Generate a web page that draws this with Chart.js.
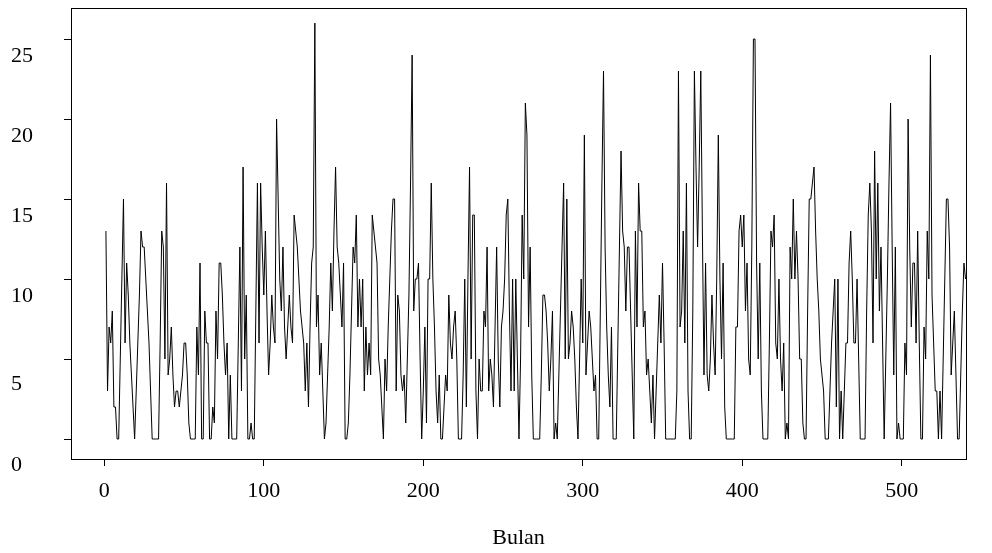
<!DOCTYPE html>
<html>
<head>
<meta charset="utf-8">
<title>Bulan</title>
<script src="https://cdn.jsdelivr.net/npm/chart.js@4.4.1/dist/chart.umd.min.js"></script>
<style>
    body { margin: 0; background: #ffffff; }
    #chart-box { width: 992px; height: 553px; }
</style>
</head>
<body>
<div id="chart-box">
    <canvas id="chart1" width="992" height="553"></canvas>
</div>
<script>
// Series values, month 1 .. 540
const values = [
    13,3,7,6,8,2,2,0,0,5,10,15,6,11,9,6,4,2,0,3,
    6,9,13,12,12,10,8,6,3,0,0,0,0,0,6,13,12,5,16,4,
    5,7,4,2,3,3,2,3,4,6,6,4,1,0,0,0,0,7,4,11,
    0,0,8,6,6,0,0,2,1,8,5,11,11,9,6,4,6,0,4,0,
    0,0,0,6,12,3,17,5,9,0,0,1,0,0,8,16,6,16,12,9,
    13,8,4,6,9,7,6,20,15,10,8,12,7,5,7,9,7,6,14,13,
    12,10,8,7,6,3,6,2,7,11,12,26,7,9,4,6,3,0,1,4,
    7,11,8,13,17,12,11,9,7,11,0,0,1,4,8,12,11,14,7,10,
    7,10,3,7,4,6,4,14,13,12,11,5,4,2,0,5,3,7,10,13,
    15,15,3,9,8,4,3,4,1,5,9,16,24,8,10,10,11,5,0,3,
    7,1,10,10,16,10,7,3,1,4,0,0,2,4,3,9,6,5,7,8,
    5,0,0,0,4,10,2,10,17,5,14,14,3,0,5,3,3,8,7,12,
    3,5,4,2,7,12,5,2,7,8,10,14,15,8,3,10,3,10,5,0,
    5,14,10,21,19,7,12,4,0,0,0,0,0,4,9,9,8,6,3,5,
    8,0,1,0,4,8,12,16,5,15,5,6,8,7,5,2,0,5,10,6,
    19,4,6,8,7,5,3,4,0,0,8,16,23,12,7,4,2,7,0,0,
    0,6,12,18,13,12,8,12,12,8,4,0,13,7,16,13,13,7,8,4,
    5,3,1,4,0,3,6,9,6,11,6,0,0,0,0,0,0,0,3,23,
    7,8,13,6,16,3,0,0,8,23,17,12,17,23,13,4,11,4,3,5,
    9,6,4,10,19,10,5,11,2,0,0,0,0,0,0,7,7,13,14,12,
    14,8,11,5,4,12,25,25,11,5,11,3,0,0,0,0,6,13,12,14,
    6,5,10,5,3,6,0,1,0,12,10,15,10,13,10,5,5,1,0,0,
    8,15,15,16,17,13,10,8,5,4,3,0,0,0,3,6,8,10,2,10,
    0,3,0,3,6,6,11,13,10,6,6,10,5,0,0,0,0,8,14,16,
    13,6,18,10,16,8,12,6,0,5,10,16,21,12,4,12,0,1,0,0,
    0,6,4,20,12,7,11,11,6,13,6,0,0,7,5,13,10,24,9,6,
    3,3,0,3,0,5,10,15,15,12,4,6,8,4,0,0,4,8,11,10
];

// Month index (x categories)
const months = values.map((v, i) => i + 1);

// Tick labels
const xTicks = [0, 100, 200, 300, 400, 500];
const yTicks = [0, 5, 10, 15, 20, 25];

const xTitle = 'Bulan';

const serif = "'Liberation Serif', 'Times New Roman', serif";

document.addEventListener('DOMContentLoaded', () => {

    const canvas = document.querySelector('#chart1');

    // Box round the plot region
    const boxPlugin = {
        id: 'boxPlugin',
        afterDraw(chart) {
            const a = chart.chartArea;
            const ctx = chart.ctx;
            ctx.save();
            ctx.strokeStyle = '#000000';
            ctx.lineWidth = 1;
            ctx.strokeRect(Math.round(a.left) + 0.5, Math.round(a.top) + 0.5,
                Math.round(a.right - a.left), Math.round(a.bottom - a.top));
            ctx.restore();
        }
    };

    // y labels sit a little lower than their ticks in the original
    const yLabelShift = { 0: 26, 5: 25, 10: 17, 15: 17, 20: 17, 25: 17 };
    const yLabelPlugin = {
        id: 'yLabelPlugin',
        afterDraw(chart) {
            const y = chart.scales.y;
            const ctx = chart.ctx;
            ctx.save();
            ctx.fillStyle = '#000000';
            ctx.font = '22px ' + serif;
            ctx.textAlign = 'left';
            ctx.textBaseline = 'middle';
            yTicks.forEach((t) => {
                ctx.fillText(String(t), 11, y.getPixelForValue(t) + yLabelShift[t]);
            });
            ctx.restore();
        }
    };

    const myChart = new Chart(canvas, {
        type: 'line',
        data: {
            datasets: [
                {
                    data: months.map((m, i) => ({ x: m, y: values[i] })),
                    borderColor: '#000000',
                    borderWidth: 1,
                    pointRadius: 0,
                    tension: 0,
                    fill: false
                }
            ]
        },
        options: {
            responsive: false,
            animation: false,
            devicePixelRatio: 1,
            layout: {
                padding: { top: 8, right: 26, left: 0, bottom: 0 }
            },
            plugins: {
                legend: { display: false },
                tooltip: { enabled: false }
            },
            scales: {
                x: {
                    type: 'linear',
                    min: -20.9,
                    max: 540.3,
                    afterBuildTicks: (scale) => {
                        scale.ticks = xTicks.map((v) => ({ value: v }));
                    },
                    afterFit: (scale) => { scale.height = 94; },
                    ticks: {
                        color: '#000000',
                        font: { family: serif, size: 22 },
                        padding: 12,
                        maxRotation: 0
                    },
                    grid: {
                        drawOnChartArea: false,
                        drawTicks: true,
                        tickLength: 7,
                        color: '#000000'
                    },
                    border: { display: true, color: '#000000' },
                    title: {
                        display: true,
                        text: xTitle,
                        color: '#000000',
                        font: { family: serif, size: 22 },
                        padding: { top: 0, bottom: 2 }
                    }
                },
                y: {
                    type: 'linear',
                    min: -1.25,
                    max: 26.94,
                    afterBuildTicks: (scale) => {
                        scale.ticks = yTicks.map((v) => ({ value: v }));
                    },
                    afterFit: (scale) => { scale.width = 71; },
                    ticks: { display: false },
                    grid: {
                        drawOnChartArea: false,
                        drawTicks: true,
                        tickLength: 7,
                        color: '#000000'
                    },
                    border: { display: true, color: '#000000' }
                }
            }
        },
        plugins: [boxPlugin, yLabelPlugin]
    });

});
</script>
</body>
</html>
